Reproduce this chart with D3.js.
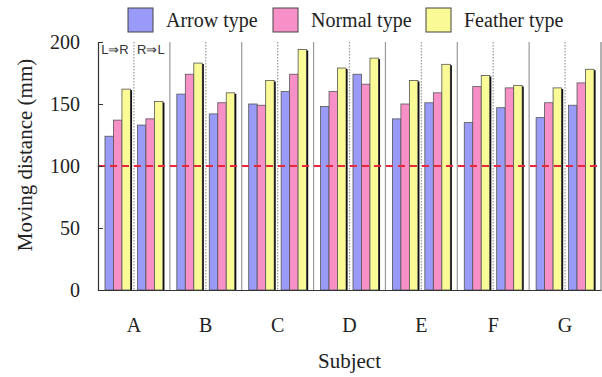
<!DOCTYPE html>
<html>
<head>
<meta charset="utf-8">
<script src="https://cdn.jsdelivr.net/npm/d3@7"></script>
<style>
  body { margin: 0; background: #fff; }
  svg { display: block; }
</style>
</head>
<body>
<svg id="chart" width="602" height="377"></svg>
<script>
// values (mm)
const subjects = ["A", "B", "C", "D", "E", "F", "G"];
const directions = ["L⇒R", "R⇒L"];
const types = ["Arrow type", "Normal type", "Feather type"];
const arrowVals = [124, 133, 158, 142, 150, 160, 148, 174, 138, 151, 135, 147, 139, 149];
const normalVals = [137, 138, 174, 151, 149, 174, 160, 166, 150, 159, 164, 163, 151, 167];
const featherVals = [162, 152, 183, 159, 169, 194, 179, 187, 169, 182, 173, 165, 163, 178];
const yTicks = [0, 50, 100, 150, 200];
const threshold = 100;

const colors = ["#9a9af8", "#f890c8", "#fafa96"];
const series = [arrowVals, normalVals, featherVals];

const rows = [];
subjects.forEach((s, i) => {
  directions.forEach((d, j) => {
    types.forEach((t, k) => {
      rows.push({ subject: s, dir: d, type: t, k: k, value: series[k][i * 2 + j] });
    });
  });
});

const svg = d3.select("#chart");
const plotL = 98, plotR = 601, plotT = 42, plotB = 290;

const x0 = d3.scaleBand().domain(subjects).range([plotL, plotR]);
const x1 = d3.scaleBand().domain(directions).range([0, x0.bandwidth()]).padding(0.215);
const x2 = d3.scaleBand().domain(types).range([0, x1.bandwidth()]);
const y = d3.scaleLinear().domain([0, 200]).range([plotB, plotT]);

const serif = "'Liberation Serif', 'Times New Roman', serif";

// group separators
const g = svg.append("g");
subjects.forEach((s, i) => {
  const gx = x0(s);
  if (i > 0) {
    g.append("line").attr("x1", gx).attr("x2", gx).attr("y1", plotT).attr("y2", plotB)
      .attr("stroke", "#999").attr("stroke-width", 1.2);
  }
  const mx = gx + x0.bandwidth() / 2;
  g.append("line").attr("x1", mx).attr("x2", mx).attr("y1", plotT).attr("y2", plotB)
    .attr("stroke", "#999").attr("stroke-width", 1.2).attr("stroke-dasharray", "1.5,1.5");
});
g.append("line").attr("x1", plotR).attr("x2", plotR).attr("y1", plotT).attr("y2", plotB)
  .attr("stroke", "#999").attr("stroke-width", 1.5);

// bars
const barX = d => x0(d.subject) + x1(d.dir) + x2(d.type);
svg.append("g").selectAll("rect")
  .data(rows)
  .enter().append("rect")
    .attr("x", barX)
    .attr("y", d => y(d.value))
    .attr("width", x2.bandwidth())
    .attr("height", d => y(0) - y(d.value))
    .attr("fill", d => colors[d.k])
    .attr("stroke", "#555")
    .attr("stroke-width", 0.8);

// dark shadow on the right edge of each cluster
svg.append("g").selectAll("line")
  .data(rows.filter(d => d.k === 2))
  .enter().append("line")
    .attr("x1", d => barX(d) + x2.bandwidth() + 0.8)
    .attr("x2", d => barX(d) + x2.bandwidth() + 0.8)
    .attr("y1", d => y(d.value) + 1)
    .attr("y2", plotB)
    .attr("stroke", "#111")
    .attr("stroke-width", 1.6);

// threshold line
svg.append("line")
  .attr("x1", plotL).attr("x2", plotR)
  .attr("y1", y(threshold)).attr("y2", y(threshold))
  .attr("stroke", "#e8283a").attr("stroke-width", 2.2)
  .attr("stroke-dasharray", "7,5");

// y axis
const yAxis = svg.append("g").attr("transform", `translate(${plotL},0)`)
  .call(d3.axisLeft(y).tickValues(yTicks).tickSize(-5).tickPadding(18));
yAxis.select(".domain").attr("stroke", "#333").attr("stroke-width", 1.2);
yAxis.selectAll(".tick line").attr("stroke", "#333");
yAxis.selectAll("text").attr("font-family", serif).attr("font-size", 20).attr("fill", "#222");

// x axis
const xAxis = svg.append("g").attr("transform", `translate(0,${plotB})`)
  .call(d3.axisBottom(x0).tickSize(0).tickPadding(28));
xAxis.select(".domain").attr("stroke", "#333").attr("stroke-width", 1.2);
xAxis.selectAll("text").attr("font-family", serif).attr("font-size", 20).attr("fill", "#222");

// direction labels in group A
directions.forEach((d, j) => {
  svg.append("text")
    .attr("x", x0("A") + x0.bandwidth() / 4 + j * x0.bandwidth() / 2 + (j === 0 ? -1 : -1))
    .attr("y", 54)
    .attr("text-anchor", "middle")
    .attr("font-family", "'Liberation Sans', Arial, sans-serif")
    .attr("font-size", 13)
    .attr("fill", "#333")
    .text(d);
});

// axis titles
svg.append("text")
  .attr("x", (plotL + plotR) / 2)
  .attr("y", 368)
  .attr("text-anchor", "middle")
  .attr("font-family", serif).attr("font-size", 21).attr("fill", "#222")
  .text("Subject");

svg.append("text")
  .attr("transform", "translate(32,155) rotate(-90)")
  .attr("text-anchor", "middle")
  .attr("font-family", serif).attr("font-size", 21).attr("fill", "#222")
  .text("Moving distance (mm)");

// legend
const legendX = [128, 273, 426];
const legend = svg.append("g");
types.forEach((t, i) => {
  legend.append("rect")
    .attr("x", legendX[i]).attr("y", 8)
    .attr("width", 25).attr("height", 24)
    .attr("fill", colors[i]).attr("stroke", "#444").attr("stroke-width", 1);
  legend.append("text")
    .attr("x", legendX[i] + 38).attr("y", 27)
    .attr("font-family", serif).attr("font-size", 20).attr("fill", "#222")
    .text(t);
});
</script>
</body>
</html>
